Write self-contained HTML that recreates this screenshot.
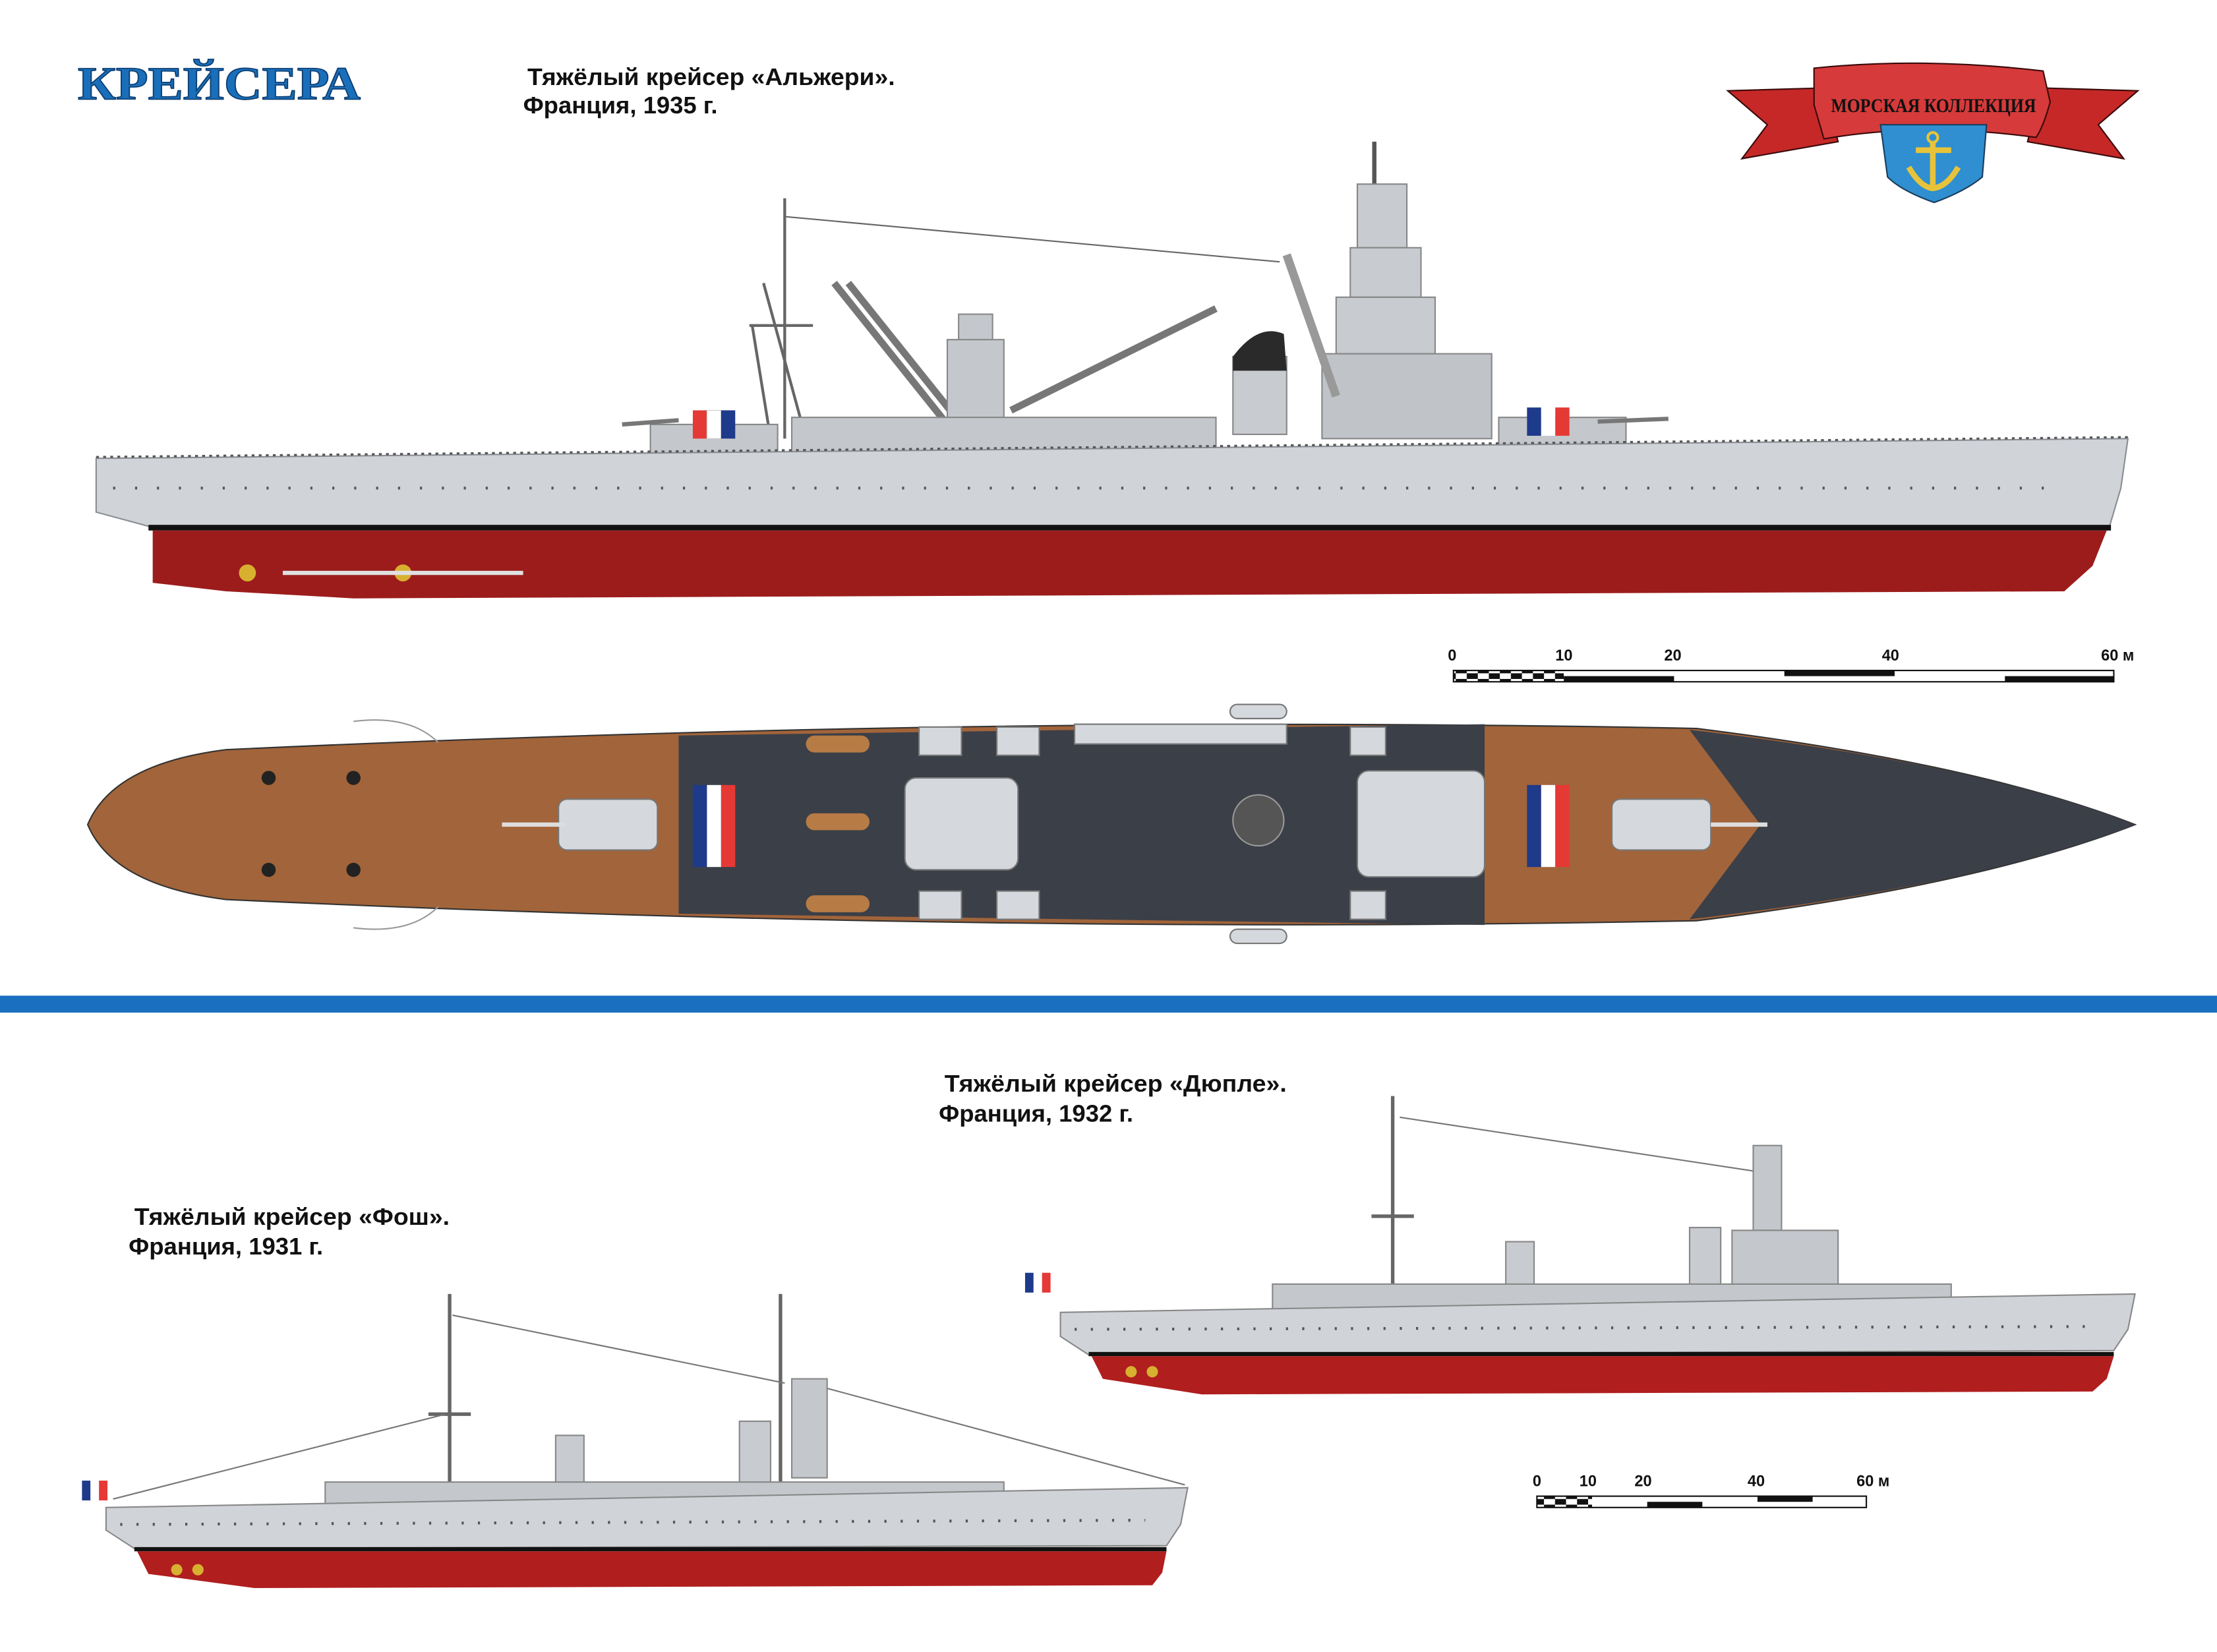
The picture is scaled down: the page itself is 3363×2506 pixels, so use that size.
<!DOCTYPE html>
<html><head><meta charset="utf-8"><style>
html,body{margin:0;padding:0;background:#fff;width:3363px;height:2506px;overflow:hidden}
svg{display:block}
text{font-family:"Liberation Sans",sans-serif;font-weight:bold}
</style></head><body>
<svg width="3363" height="2506" viewBox="0 0 1568 1168" xmlns="http://www.w3.org/2000/svg">
<defs><pattern id="chk" width="15.6" height="8" patternUnits="userSpaceOnUse"><rect width="7.8" height="4" fill="#111"/><rect x="7.8" y="4" width="7.8" height="4" fill="#111"/></pattern></defs>
<rect width="1568" height="1168" fill="#fff"/>
<!-- title -->
<text x="55" y="70" font-size="33" fill="#1a6fba" stroke="#0d3f73" stroke-width="0.8" textLength="200" lengthAdjust="spacingAndGlyphs" style="font-family:'Liberation Serif',serif">КРЕЙСЕРА</text>
<text x="373" y="60" font-size="17" fill="#111" textLength="260" lengthAdjust="spacingAndGlyphs">Тяжёлый крейсер «Альжери».</text>
<text x="370" y="80" font-size="17" fill="#111">Франция,  1935 г.</text>
<text x="668" y="772" font-size="17" fill="#111" textLength="242" lengthAdjust="spacingAndGlyphs">Тяжёлый крейсер «Дюпле».</text>
<text x="664" y="793" font-size="17" fill="#111">Франция, 1932 г.</text>
<text x="95" y="866" font-size="17" fill="#111" textLength="223" lengthAdjust="spacingAndGlyphs">Тяжёлый крейсер «Фош».</text>
<text x="91" y="887" font-size="17" fill="#111">Франция, 1931 г.</text>
<!-- logo -->
<g stroke="#3a0a0a" stroke-width="1">
<path d="M1222,64 L1290,62 L1300,100 L1232,112 L1250,88 Z" fill="#c62828"/>
<path d="M1512,64 L1444,62 L1434,100 L1502,112 L1484,88 Z" fill="#c62828"/>
<path d="M1283,48 Q1360,40 1445,50 L1450,72 Q1445,90 1440,97 Q1360,86 1290,98 L1283,74 Z" fill="#d63a3a"/>
</g>
<text x="1295" y="79" font-size="14" fill="#111" textLength="145" lengthAdjust="spacingAndGlyphs" style="font-family:'Liberation Serif',serif">МОРСКАЯ КОЛЛЕКЦИЯ</text>
<path d="M1330,88 L1405,88 L1402,125 Q1390,135 1368,143 Q1345,135 1335,125 Z" fill="#2f8fd0" stroke="#1a3d5c"/>
<g stroke="#e8c33a" stroke-width="4" fill="none"><line x1="1367" y1="100" x2="1367" y2="132"/><line x1="1355" y1="106" x2="1380" y2="106"/><path d="M1350,118 Q1358,132 1367,133 Q1377,132 1385,118"/></g>
<circle cx="1367" cy="97" r="3.5" fill="none" stroke="#e8c33a" stroke-width="2"/>

<!-- Ship 1 side -->
<g>
<line x1="555" y1="153" x2="905" y2="185" stroke="#666" stroke-width="1"/>
<path d="M555,140 L555,310 M530,230 L575,230 M540,200 L570,310 M532,230 L545,310" stroke="#666" stroke-width="2" fill="none"/>
<path d="M590,200 L670,300 M600,200 L680,300 M715,290 L860,218" stroke="#777" stroke-width="5" fill="none"/>
<rect x="678" y="222" width="24" height="20" fill="#c4c8cd" stroke="#888"/>
<rect x="670" y="240" width="40" height="70" fill="#c4c8cd" stroke="#888"/>
<rect x="872" y="252" width="38" height="55" fill="#c8ccd1" stroke="#888"/>
<path d="M872,262 L872,252 Q890,228 908,236 L910,262 Z" fill="#2a2a2a"/>
<line x1="972" y1="100" x2="972" y2="140" stroke="#555" stroke-width="3"/>
<rect x="960" y="130" width="35" height="45" fill="#c8ccd1" stroke="#888"/>
<rect x="955" y="175" width="50" height="35" fill="#c8ccd1" stroke="#888"/>
<rect x="945" y="210" width="70" height="40" fill="#c8ccd1" stroke="#888"/>
<rect x="935" y="250" width="120" height="60" fill="#c0c4c9" stroke="#888"/>
<path d="M910,180 L945,280" stroke="#999" stroke-width="6"/>
<rect x="460" y="300" width="90" height="25" fill="#c4c8cd" stroke="#888"/>
<rect x="560" y="295" width="300" height="30" fill="#c4c8cd" stroke="#888"/>
<rect x="1060" y="295" width="90" height="30" fill="#c4c8cd" stroke="#888"/>
<line x1="440" y1="300" x2="480" y2="297" stroke="#777" stroke-width="3"/>
<line x1="1130" y1="298" x2="1180" y2="296" stroke="#777" stroke-width="3"/>
<rect x="490" y="290" width="10" height="20" fill="#e53935"/><rect x="500" y="290" width="10" height="20" fill="#fff" stroke="#ccc" stroke-width=".5"/><rect x="510" y="290" width="10" height="20" fill="#1e3a8a"/>
<rect x="1080" y="288" width="10" height="20" fill="#1e3a8a"/><rect x="1090" y="288" width="10" height="20" fill="#fff"/><rect x="1100" y="288" width="10" height="20" fill="#e53935"/>
<path d="M68,324 L1505,310 L1500,345 L1492,372 L105,372 L68,362 Z" fill="#d0d4d9" stroke="#8a8e93"/>
<line x1="68" y1="323" x2="1505" y2="309" stroke="#555" stroke-width="1.5" stroke-dasharray="2 3"/>
<line x1="80" y1="345" x2="1450" y2="345" stroke="#555" stroke-width="2" stroke-dasharray="1.5 14"/>
<rect x="105" y="371" width="1388" height="4" fill="#111"/>
<path d="M108,375 L1490,375 L1480,400 L1460,418 L250,423 L160,418 L108,412 Z" fill="#9c1c1c"/>
<circle cx="175" cy="405" r="6" fill="#d8b030"/><circle cx="285" cy="405" r="6" fill="#d8b030"/>
<line x1="200" y1="405" x2="370" y2="405" stroke="#e0e0e0" stroke-width="3"/>
</g>
<!-- scale bar 1 -->
<g font-size="11" fill="#111">
<text x="1024" y="467" font-weight="normal">0</text><text x="1100" y="467" font-weight="normal">10</text><text x="1177" y="467" font-weight="normal">20</text><text x="1331" y="467" font-weight="normal">40</text><text x="1486" y="467" font-weight="normal">60 м</text>
</g>
<rect x="1028" y="474" width="467" height="8" fill="#fff" stroke="#111"/>
<g fill="#111">
<rect x="1106" y="478" width="78" height="4"/><rect x="1262" y="474" width="78" height="4"/><rect x="1418" y="478" width="77" height="4"/></g>
<rect x="1028" y="474" width="78" height="8" fill="url(#chk)"/>

<!-- top view -->
<path d="M62,583 Q80,540 160,530 Q700,505 1200,515 Q1400,540 1510,583 Q1400,626 1200,651 Q700,661 160,636 Q80,626 62,583 Z" fill="#a2643a" stroke="#333"/>
<path d="M480,520 L1050,512 L1050,654 L480,646 Z" fill="#3b3f48"/>
<path d="M1195,516 Q1400,540 1510,583 Q1400,626 1195,650 L1245,583 Z" fill="#3b3f48"/>
<path d="M250,510 Q290,505 310,525 M250,656 Q290,661 310,641" stroke="#999" fill="none"/>
<g fill="#d5d8dc" stroke="#777">
<rect x="395" y="565" width="70" height="36" rx="6"/><rect x="1140" y="565" width="70" height="36" rx="6"/>
<rect x="960" y="545" width="90" height="75" rx="8"/><rect x="640" y="550" width="80" height="65" rx="8"/>
<rect x="760" y="512" width="150" height="14"/><rect x="870" y="498" width="40" height="10" rx="5"/><rect x="870" y="657" width="40" height="10" rx="5"/>
<rect x="650" y="514" width="30" height="20"/><rect x="705" y="514" width="30" height="20"/><rect x="650" y="630" width="30" height="20"/><rect x="705" y="630" width="30" height="20"/>
<rect x="955" y="514" width="25" height="20"/><rect x="955" y="630" width="25" height="20"/>
</g>
<line x1="355" y1="583" x2="400" y2="583" stroke="#ddd" stroke-width="3"/><line x1="1210" y1="583" x2="1250" y2="583" stroke="#ddd" stroke-width="3"/>
<rect x="490" y="555" width="10" height="58" fill="#1e3a8a"/><rect x="500" y="555" width="10" height="58" fill="#fff"/><rect x="510" y="555" width="10" height="58" fill="#e53935"/>
<rect x="1080" y="555" width="10" height="58" fill="#1e3a8a"/><rect x="1090" y="555" width="10" height="58" fill="#fff"/><rect x="1100" y="555" width="10" height="58" fill="#e53935"/>
<circle cx="890" cy="580" r="18" fill="#555" stroke="#999"/>
<g fill="#b77b45"><rect x="570" y="575" width="45" height="12" rx="6"/><rect x="570" y="633" width="45" height="12" rx="6"/><rect x="570" y="520" width="45" height="12" rx="6"/></g>
<g fill="#222"><circle cx="190" cy="550" r="5"/><circle cx="250" cy="550" r="5"/><circle cx="190" cy="615" r="5"/><circle cx="250" cy="615" r="5"/></g>

<!-- separator -->
<rect x="0" y="704" width="1568" height="12" fill="#1a6fc0"/>

<!-- Ship 2 Dupleix -->
<g>
<path d="M985,775 L985,920 M970,860 L1000,860" stroke="#666" stroke-width="2.5"/>
<line x1="990" y1="790" x2="1240" y2="828" stroke="#777"/>
<rect x="1240" y="810" width="20" height="60" fill="#c4c8cd" stroke="#888"/>
<rect x="1225" y="870" width="75" height="40" fill="#c4c8cd" stroke="#888"/>
<rect x="1195" y="868" width="22" height="45" fill="#c8ccd1" stroke="#888"/>
<rect x="1065" y="878" width="20" height="35" fill="#c8ccd1" stroke="#888"/>
<rect x="900" y="908" width="480" height="20" fill="#c4c8cd" stroke="#888"/>
<rect x="725" y="900" width="6" height="14" fill="#1e3a8a"/><rect x="731" y="900" width="6" height="14" fill="#fff"/><rect x="737" y="900" width="6" height="14" fill="#e53935"/>
<path d="M750,928 L1510,915 L1505,940 L1495,955 L770,958 L750,945 Z" fill="#d0d4d9" stroke="#888"/>
<line x1="760" y1="940" x2="1480" y2="938" stroke="#555" stroke-width="2" stroke-dasharray="1.5 10"/>
<rect x="770" y="956" width="725" height="3" fill="#111"/>
<path d="M772,959 L1495,959 L1490,975 L1480,984 L850,986 L780,975 Z" fill="#b01e1e"/>
<circle cx="800" cy="970" r="4" fill="#d8b030"/><circle cx="815" cy="970" r="4" fill="#d8b030"/>
</g>
<!-- scale bar 2 -->
<g font-size="11" fill="#111"><text x="1084" y="1051" font-weight="normal">0</text><text x="1117" y="1051" font-weight="normal">10</text><text x="1156" y="1051" font-weight="normal">20</text><text x="1236" y="1051" font-weight="normal">40</text><text x="1313" y="1051" font-weight="normal">60 м</text></g>
<rect x="1087" y="1058" width="233" height="8" fill="#fff" stroke="#111"/>
<rect x="1087" y="1058" width="39" height="8" fill="url(#chk)"/>
<rect x="1165" y="1062" width="39" height="4" fill="#111"/><rect x="1243" y="1058" width="39" height="4" fill="#111"/>

<!-- Ship 3 Foch -->
<g>
<path d="M318,915 L318,1060 M303,1000 L333,1000 M552,915 L552,1050" stroke="#666" stroke-width="2.5"/>
<line x1="320" y1="930" x2="555" y2="978" stroke="#777"/>
<line x1="560" y1="975" x2="838" y2="1050" stroke="#777"/>
<line x1="80" y1="1060" x2="315" y2="1000" stroke="#777"/>
<rect x="560" y="975" width="25" height="70" fill="#c4c8cd" stroke="#888"/>
<rect x="523" y="1005" width="22" height="45" fill="#c8ccd1" stroke="#888"/>
<rect x="393" y="1015" width="20" height="40" fill="#c8ccd1" stroke="#888"/>
<rect x="230" y="1048" width="480" height="18" fill="#c4c8cd" stroke="#888"/>
<rect x="58" y="1047" width="6" height="14" fill="#1e3a8a"/><rect x="64" y="1047" width="6" height="14" fill="#fff"/><rect x="70" y="1047" width="6" height="14" fill="#e53935"/>
<path d="M75,1066 L840,1052 L835,1078 L825,1093 L95,1095 L75,1082 Z" fill="#d0d4d9" stroke="#888"/>
<line x1="85" y1="1078" x2="810" y2="1075" stroke="#555" stroke-width="2" stroke-dasharray="1.5 10"/>
<rect x="95" y="1094" width="730" height="3" fill="#111"/>
<path d="M97,1097 L825,1097 L822,1112 L815,1121 L180,1123 L105,1113 Z" fill="#b01e1e"/>
<circle cx="125" cy="1110" r="4" fill="#d8b030"/><circle cx="140" cy="1110" r="4" fill="#d8b030"/>
</g>
</svg>
</body></html>
